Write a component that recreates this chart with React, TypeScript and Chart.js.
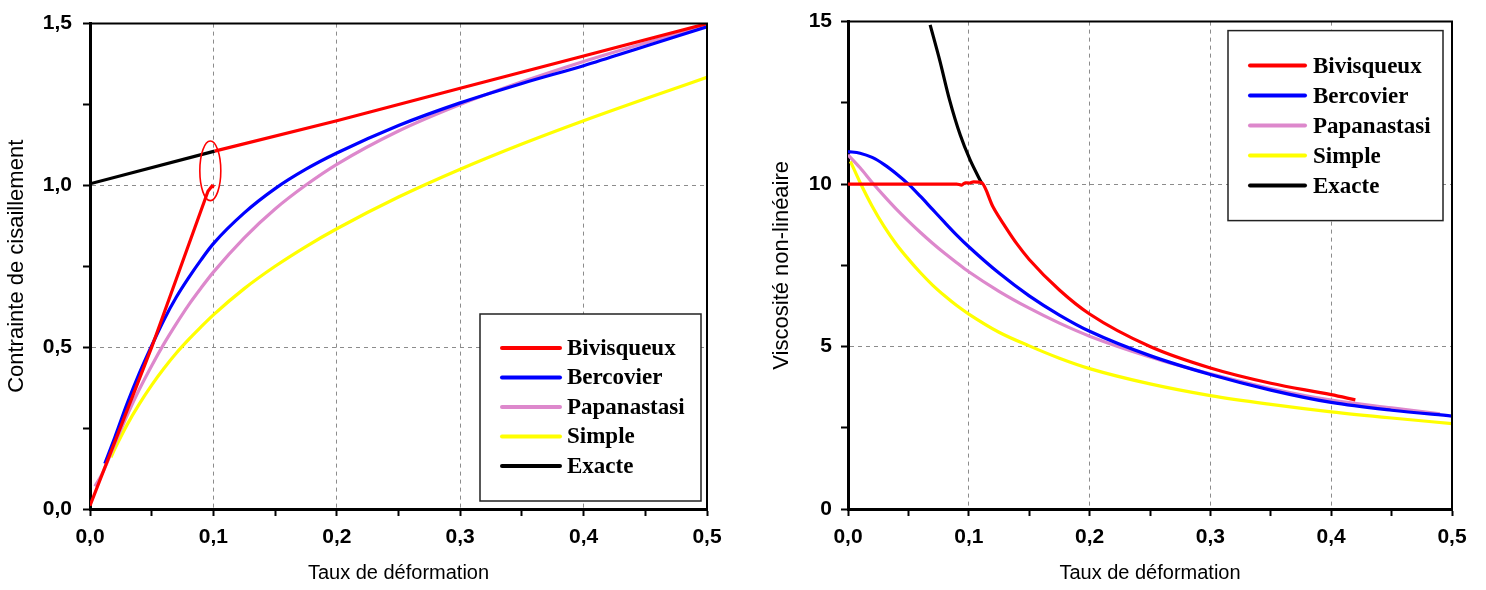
import React, { useEffect, useRef } from 'react';
import { Chart, registerables } from 'chart.js';

Chart.register(...registerables);

// ---------- Contrainte de cisaillement vs taux de déformation ----------
const bivisqueuxStressStrain = [0, 0.05, 0.0956, 0.0989, 0.1007, 0.1, 0.101, 0.2, 0.3, 0.4, 0.5];
const bivisqueuxStress = [0.01, 0.5, 0.982, 0.998, 0.995, null, 1.106, 1.2, 1.3, 1.4, 1.5];

const bercovierStressStrain = [0.012, 0.02, 0.03, 0.04, 0.05, 0.06, 0.07, 0.08, 0.09, 0.1, 0.125, 0.15, 0.175, 0.2, 0.25, 0.3, 0.35, 0.4, 0.45, 0.5];
const bercovierStress = [0.14, 0.22, 0.325, 0.42, 0.505, 0.585, 0.655, 0.715, 0.77, 0.82, 0.915, 0.99, 1.05, 1.1, 1.185, 1.255, 1.315, 1.37, 1.43, 1.49];

const papanastasiStressStrain = [0.004, 0.01, 0.02, 0.03, 0.04, 0.05, 0.06, 0.07, 0.08, 0.09, 0.1, 0.125, 0.15, 0.175, 0.2, 0.25, 0.3, 0.35, 0.4, 0.45, 0.5];
const papanastasiStress = [0.07, 0.11, 0.2, 0.289, 0.37, 0.443, 0.511, 0.573, 0.631, 0.683, 0.732, 0.838, 0.927, 1.001, 1.065, 1.168, 1.25, 1.32, 1.383, 1.44, 1.495];

const simpleStressStrain = [0.017, 0.02, 0.03, 0.04, 0.05, 0.06, 0.07, 0.08, 0.09, 0.1, 0.125, 0.15, 0.175, 0.2, 0.25, 0.3, 0.35, 0.4, 0.45, 0.5];
const simpleStress = [0.16, 0.185, 0.26, 0.325, 0.383, 0.435, 0.482, 0.524, 0.563, 0.6, 0.681, 0.75, 0.811, 0.866, 0.964, 1.05, 1.128, 1.2, 1.268, 1.334];

const exacteStressStrain = [0, 0.101];
const exacteStress = [1.005, 1.106];

// jump of the bivisqueux model, circled on the stress plot
const jumpMark = { x: 0.0975, y: 1.045, rx: 0.0085, ry: 0.092 };

// ---------- Viscosité non-linéaire vs taux de déformation ----------
const bivisqueuxViscStrain = [0, 0.05, 0.09, 0.094, 0.097, 0.1, 0.104, 0.108, 0.111, 0.12, 0.13, 0.14, 0.15, 0.175, 0.2, 0.25, 0.3, 0.35, 0.4, 0.42];
const bivisqueuxVisc = [10, 10, 10, 9.97, 10.04, 10.03, 10.07, 10.06, 10.03, 9.3, 8.7, 8.15, 7.68, 6.74, 6.0, 5.0, 4.34, 3.87, 3.52, 3.36];

const bercovierViscStrain = [0, 0.01, 0.02, 0.03, 0.04, 0.05, 0.06, 0.07, 0.08, 0.09, 0.1, 0.125, 0.15, 0.175, 0.2, 0.25, 0.3, 0.35, 0.4, 0.45, 0.5];
const bercovierVisc = [11.0, 10.95, 10.82, 10.6, 10.32, 10.0, 9.62, 9.22, 8.82, 8.43, 8.07, 7.26, 6.56, 5.97, 5.47, 4.72, 4.14, 3.66, 3.28, 3.04, 2.86];

const papanastasiViscStrain = [0, 0.01, 0.02, 0.03, 0.04, 0.05, 0.06, 0.07, 0.08, 0.09, 0.1, 0.125, 0.15, 0.175, 0.2, 0.25, 0.3, 0.35, 0.4, 0.45, 0.49];
const papanastasiVisc = [10.9, 10.5, 10.05, 9.63, 9.23, 8.86, 8.51, 8.18, 7.87, 7.58, 7.3, 6.7, 6.18, 5.72, 5.32, 4.68, 4.16, 3.71, 3.35, 3.11, 2.93];

const simpleViscStrain = [0.002, 0.01, 0.02, 0.03, 0.04, 0.05, 0.06, 0.07, 0.08, 0.09, 0.1, 0.125, 0.15, 0.175, 0.2, 0.25, 0.3, 0.35, 0.4, 0.45, 0.5];
const simpleVisc = [10.7, 10.05, 9.32, 8.69, 8.15, 7.69, 7.27, 6.89, 6.56, 6.26, 6.0, 5.44, 5.02, 4.64, 4.32, 3.85, 3.49, 3.22, 2.99, 2.8, 2.63];

const exacteViscStrain = [0.068, 0.076, 0.084, 0.093, 0.101, 0.111];
const exacteVisc = [14.9, 13.8, 12.6, 11.5, 10.75, 10.0];

// ---------- styling ----------
const RED = '#ff0000';
const BLUE = '#0000ff';
const PINK = '#dd88cc';
const YELLOW = '#ffff00';
const BLACK = '#000000';
const GRID = '#8c8c8c';

const SANS = "'Liberation Sans', Arial, sans-serif";
const SERIF = "'Liberation Serif', 'Times New Roman', serif";

const near = (v: number, step: number) => Math.abs(v / step - Math.round(v / step)) < 1e-6;
const comma = (v: number) => v.toFixed(1).replace('.', ',');
const points = (xs: number[], ys: (number | null)[]) => xs.map((x, i) => ({ x, y: ys[i] }));

const series = (label: string, color: string, xs: number[], ys: (number | null)[], smooth: boolean) => ({
  label,
  data: points(xs, ys),
  borderColor: color,
  backgroundColor: color,
  borderWidth: 3.2,
  pointRadius: 0,
  fill: false,
  spanGaps: false,
  tension: 0,
  cubicInterpolationMode: smooth ? 'monotone' : 'default',
});

// legend box drawn inside the plot area
const boxLegend = {
  id: 'boxLegend',
  afterDraw(chart: any, _args: any, o: any) {
    const { ctx, chartArea } = chart;
    const x0 = chartArea.right - o.insetRight - o.width;
    const y0 = o.anchor === 'top' ? chartArea.top + o.insetTop : chartArea.bottom - o.insetBottom - o.height;
    ctx.save();
    ctx.fillStyle = '#ffffff';
    ctx.fillRect(x0, y0, o.width, o.height);
    ctx.strokeStyle = '#222222';
    ctx.lineWidth = 1.5;
    ctx.strokeRect(x0, y0, o.width, o.height);
    ctx.font = `bold ${o.fontSize}px ${SERIF}`;
    ctx.textBaseline = 'middle';
    ctx.textAlign = 'left';
    chart.data.datasets.forEach((ds: any, i: number) => {
      const y = y0 + o.firstRow + i * o.rowGap;
      ctx.strokeStyle = ds.borderColor;
      ctx.lineWidth = 4;
      ctx.lineCap = 'round';
      ctx.beginPath();
      ctx.moveTo(x0 + o.lineStart, y);
      ctx.lineTo(x0 + o.lineStart + o.lineLength, y);
      ctx.stroke();
      ctx.fillStyle = '#000000';
      ctx.fillText(ds.label, x0 + o.textStart, y + 1);
    });
    ctx.restore();
  },
};

// top and right edges of the plot frame
const plotFrame = {
  id: 'plotFrame',
  afterDatasetsDraw(chart: any) {
    const { ctx, chartArea: a } = chart;
    ctx.save();
    ctx.strokeStyle = '#000000';
    ctx.lineWidth = 2;
    ctx.beginPath();
    ctx.moveTo(a.left, a.top);
    ctx.lineTo(a.right, a.top);
    ctx.lineTo(a.right, a.bottom);
    ctx.stroke();
    ctx.restore();
  },
};

// red ellipse drawn in data coordinates
const dataEllipse = {
  id: 'dataEllipse',
  afterDatasetsDraw(chart: any, _args: any, o: any) {
    if (!o || !o.mark) return;
    const { ctx, scales } = chart;
    const m = o.mark;
    const cx = scales.x.getPixelForValue(m.x);
    const cy = scales.y.getPixelForValue(m.y);
    const rx = Math.abs(scales.x.getPixelForValue(m.x + m.rx) - cx);
    const ry = Math.abs(scales.y.getPixelForValue(m.y + m.ry) - cy);
    ctx.save();
    ctx.strokeStyle = RED;
    ctx.lineWidth = 1.6;
    ctx.beginPath();
    ctx.ellipse(cx, cy, rx, ry, 0, 0, Math.PI * 2);
    ctx.stroke();
    ctx.restore();
  },
};

const tickFont = { family: SANS, size: 21, weight: 'bold' as const };
const titleFont = { family: SANS, size: 20 };

function xAxis(height: number) {
  return {
    type: 'linear',
    min: 0,
    max: 0.5,
    afterFit: (s: any) => { s.height = height; },
    ticks: {
      stepSize: 0.05,
      autoSkip: false,
      maxRotation: 0,
      padding: 9,
      color: '#000',
      font: tickFont,
      callback: (v: number) => (near(v, 0.1) ? comma(v) : ''),
    },
    grid: {
      color: (c: any) => {
        const v = c.tick ? c.tick.value : 0;
        return near(v, 0.1) && v > 1e-6 && v < 0.5 - 1e-6 ? GRID : 'rgba(0,0,0,0)';
      },
      lineWidth: 1,
      tickColor: '#000',
      tickWidth: 2,
      tickLength: 7,
    },
    border: { display: true, color: '#000', width: 3, dash: [4, 4] },
    title: { display: true, text: 'Taux de déformation', color: '#000', font: titleFont, padding: { top: 0, bottom: 5 } },
  };
}

function yAxis(width: number, max: number, step: number, major: number, fmt: (v: number) => string, title: string, titlePad: number, labelPad: number) {
  return {
    type: 'linear',
    min: 0,
    max,
    afterFit: (s: any) => { s.width = width; },
    ticks: {
      stepSize: step,
      autoSkip: false,
      padding: labelPad,
      color: '#000',
      font: tickFont,
      callback: (v: number) => (near(v, major) ? fmt(v) : ''),
    },
    grid: {
      color: (c: any) => {
        const v = c.tick ? c.tick.value : 0;
        return near(v, major) && v > 1e-6 && v < max - 1e-6 ? GRID : 'rgba(0,0,0,0)';
      },
      lineWidth: 1,
      tickColor: '#000',
      tickWidth: 2,
      tickLength: 7,
    },
    border: { display: true, color: '#000', width: 3, dash: [4, 4] },
    title: { display: true, text: title, color: '#000', font: { family: SANS, size: 22 }, padding: { top: titlePad, bottom: 0 } },
  };
}

function stressConfig(): any {
  return {
    type: 'line',
    data: {
      datasets: [
        series('Bivisqueux', RED, bivisqueuxStressStrain, bivisqueuxStress, false),
        series('Bercovier', BLUE, bercovierStressStrain, bercovierStress, true),
        series('Papanastasi', PINK, papanastasiStressStrain, papanastasiStress, true),
        series('Simple', YELLOW, simpleStressStrain, simpleStress, true),
        series('Exacte', BLACK, exacteStressStrain, exacteStress, false),
      ],
    },
    options: {
      responsive: false,
      animation: false,
      events: [],
      layout: { padding: { top: 22, right: 33, left: 0, bottom: 0 } },
      scales: {
        x: xAxis(81),
        y: yAxis(90, 1.5, 0.25, 0.5, comma, 'Contrainte de cisaillement', 4, 11),
      },
      plugins: {
        legend: { display: false },
        tooltip: { enabled: false },
        boxLegend: { anchor: 'bottom', width: 221, height: 187, insetRight: 6, insetBottom: 8, firstRow: 34, rowGap: 29.5, lineStart: 22, lineLength: 58, textStart: 87, fontSize: 23 },
        dataEllipse: { mark: jumpMark },
      },
    },
    plugins: [plotFrame, dataEllipse, boxLegend],
  };
}

function viscosityConfig(): any {
  return {
    type: 'line',
    data: {
      datasets: [
        series('Bivisqueux', RED, bivisqueuxViscStrain, bivisqueuxVisc, true),
        series('Bercovier', BLUE, bercovierViscStrain, bercovierVisc, true),
        series('Papanastasi', PINK, papanastasiViscStrain, papanastasiVisc, true),
        series('Simple', YELLOW, simpleViscStrain, simpleVisc, true),
        series('Exacte', BLACK, exacteViscStrain, exacteVisc, true),
      ],
    },
    options: {
      responsive: false,
      animation: false,
      events: [],
      layout: { padding: { top: 18, right: 34, left: 0, bottom: 0 } },
      scales: {
        x: xAxis(81),
        y: yAxis(108, 15, 2.5, 5, (v) => String(Math.round(v)), 'Viscosité non-linéaire', 29, 9),
      },
      plugins: {
        legend: { display: false },
        tooltip: { enabled: false },
        boxLegend: { anchor: 'top', width: 215, height: 190, insetRight: 9, insetTop: 9, firstRow: 35, rowGap: 30, lineStart: 22, lineLength: 55, textStart: 85, fontSize: 23 },
      },
    },
    plugins: [plotFrame, boxLegend],
  };
}

function ChartCanvas({ build, left, width }: { build: () => any; left: number; width: number }) {
  const ref = useRef<HTMLCanvasElement | null>(null);
  useEffect(() => {
    if (!ref.current) return;
    const chart = new Chart(ref.current, build());
    return () => chart.destroy();
  }, [build]);
  return (
    <canvas
      ref={ref}
      width={width}
      height={590}
      style={{ position: 'absolute', left, top: 0, width, height: 590, display: 'block' }}
    />
  );
}

export default function App() {
  useEffect(() => {
    document.body.style.margin = '0';
    document.body.style.background = '#ffffff';
  }, []);
  return (
    <div style={{ position: 'relative', width: 1486, height: 590, background: '#fff', overflow: 'hidden' }}>
      <ChartCanvas build={stressConfig} left={0} width={740} />
      <ChartCanvas build={viscosityConfig} left={740} width={746} />
    </div>
  );
}
